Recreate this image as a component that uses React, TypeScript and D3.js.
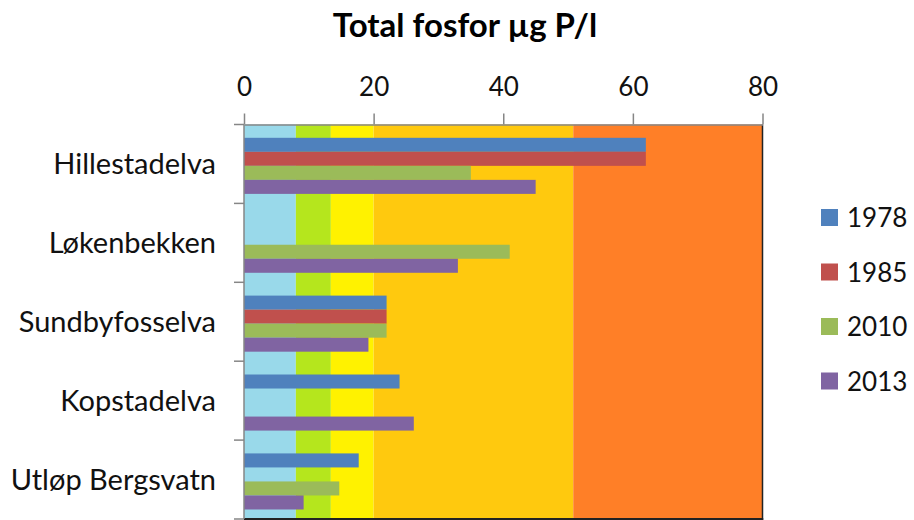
import React, { useEffect, useRef } from "react";
import * as d3 from "d3";

const categories = ["Hillestadelva", "Løkenbekken", "Sundbyfosselva", "Kopstadelva", "Utløp Bergsvatn"];
const seriesNames = ["1978", "1985", "2010", "2013"];
const values1978: (number | null)[] = [62, null, 22, 24, 17.7];
const values1985: (number | null)[] = [62, null, 22, null, null];
const values2010: (number | null)[] = [35, 41, 22, null, 14.7];
const values2013: (number | null)[] = [45, 33, 19.2, 26.2, 9.2];
const seriesColors = ["#4F81BD", "#C0504D", "#9BBB59", "#8064A2"];
const bandLimits = [0, 8, 13.4, 20, 50.8, 80];
const bandColors = ["#99D9EA", "#B5E61D", "#FFF200", "#FFC90E", "#FF7F27"];
const xTicks = [0, 20, 40, 60, 80];
const title = "Total fosfor µg P/l";

const W = 914;
const H = 520;
const FONT = "Lato, 'Open Sans', sans-serif";

export default function App() {
  const ref = useRef<SVGSVGElement>(null);
  useEffect(() => {
    document.body.style.margin = "0";
    const svg = d3.select(ref.current);
    svg.selectAll("*").remove();

    const left = 244, right = 762.5, top = 124.5, bottom = 519;
    const x = d3.scaleLinear().domain([0, 80]).range([left, right]);
    const y0 = d3.scaleBand<string>().domain(categories).range([top, bottom]).padding(0);
    const y1 = d3.scaleBand<string>().domain(seriesNames).range([0, y0.bandwidth()])
      .paddingInner(0).paddingOuter(0.814).align(0.583);
    const data = [values1978, values1985, values2010, values2013];

    // background bands
    const bands = d3.range(bandColors.length).map(i => ({ lo: bandLimits[i], hi: bandLimits[i + 1], c: bandColors[i] }));
    svg.append("g").selectAll("rect").data(bands).join("rect")
      .attr("x", d => x(d.lo)).attr("width", d => x(d.hi) - x(d.lo))
      .attr("y", top).attr("height", bottom - top)
      .attr("fill", d => d.c);

    // bars
    const gBars = svg.append("g");
    categories.forEach((cat, ci) => {
      seriesNames.forEach((s, si) => {
        const v = data[si][ci];
        if (v == null) return;
        gBars.append("rect")
          .attr("x", x(0)).attr("width", x(v) - x(0))
          .attr("y", (y0(cat) as number) + (y1(s) as number))
          .attr("height", y1.bandwidth())
          .attr("fill", seriesColors[si]);
      });
    });

    // plot border (right / bottom dark)
    svg.append("line").attr("x1", right).attr("x2", right).attr("y1", top).attr("y2", bottom + 1)
      .attr("stroke", "#222").attr("stroke-width", 1.5);
    svg.append("line").attr("x1", left).attr("x2", right + 0.75).attr("y1", bottom).attr("y2", bottom)
      .attr("stroke", "#222").attr("stroke-width", 2);

    // top axis
    const ax = svg.append("g").attr("transform", `translate(0,${top})`)
      .call(d3.axisTop(x).tickValues(xTicks).tickSize(11).tickSizeOuter(0).tickPadding(18).tickFormat(d3.format("d")));
    ax.select(".domain").attr("stroke", "#868686").attr("stroke-width", 1.5);
    ax.selectAll(".tick line").attr("stroke", "#868686").attr("stroke-width", 1.5);
    ax.selectAll(".tick text").attr("font-family", FONT).attr("font-size", 26).attr("fill", "#111");

    // left axis
    svg.append("line").attr("x1", left).attr("x2", left).attr("y1", top).attr("y2", bottom)
      .attr("stroke", "#868686").attr("stroke-width", 1.5);
    const boundaries = categories.map(c => y0(c) as number).concat([y0.range()[1]]);
    svg.append("g").selectAll("line").data(boundaries).join("line")
      .attr("x1", left - 10).attr("x2", left).attr("y1", d => d).attr("y2", d => d)
      .attr("stroke", "#868686").attr("stroke-width", 1.5);
    svg.append("g").selectAll("text").data(categories).join("text")
      .attr("x", 216).attr("y", d => (y0(d) as number) + y0.bandwidth() / 2 + 10)
      .attr("text-anchor", "end").attr("font-family", FONT).attr("font-size", 29).attr("fill", "#111")
      .text(d => d);

    // title
    svg.append("text").attr("x", 465).attr("y", 37).attr("text-anchor", "middle")
      .attr("font-family", FONT).attr("font-weight", "bold").attr("font-size", 33).attr("fill", "#000")
      .text(title);

    // legend
    const ly = d3.scalePoint<string>().domain(seriesNames).range([217.5, 381]);
    const lg = svg.append("g").selectAll("g").data(seriesNames).join("g")
      .attr("transform", d => `translate(821,${ly(d)})`);
    lg.append("rect").attr("x", 0).attr("y", -8.5).attr("width", 17).attr("height", 17)
      .attr("fill", (d, i) => seriesColors[i]);
    lg.append("text").attr("x", 26).attr("y", 9.5).attr("font-family", FONT).attr("font-size", 26)
      .attr("fill", "#111").text(d => d);
  }, []);
  return <svg ref={ref} width={W} height={H} style={{ display: "block", background: "#fff" }} />;
}
